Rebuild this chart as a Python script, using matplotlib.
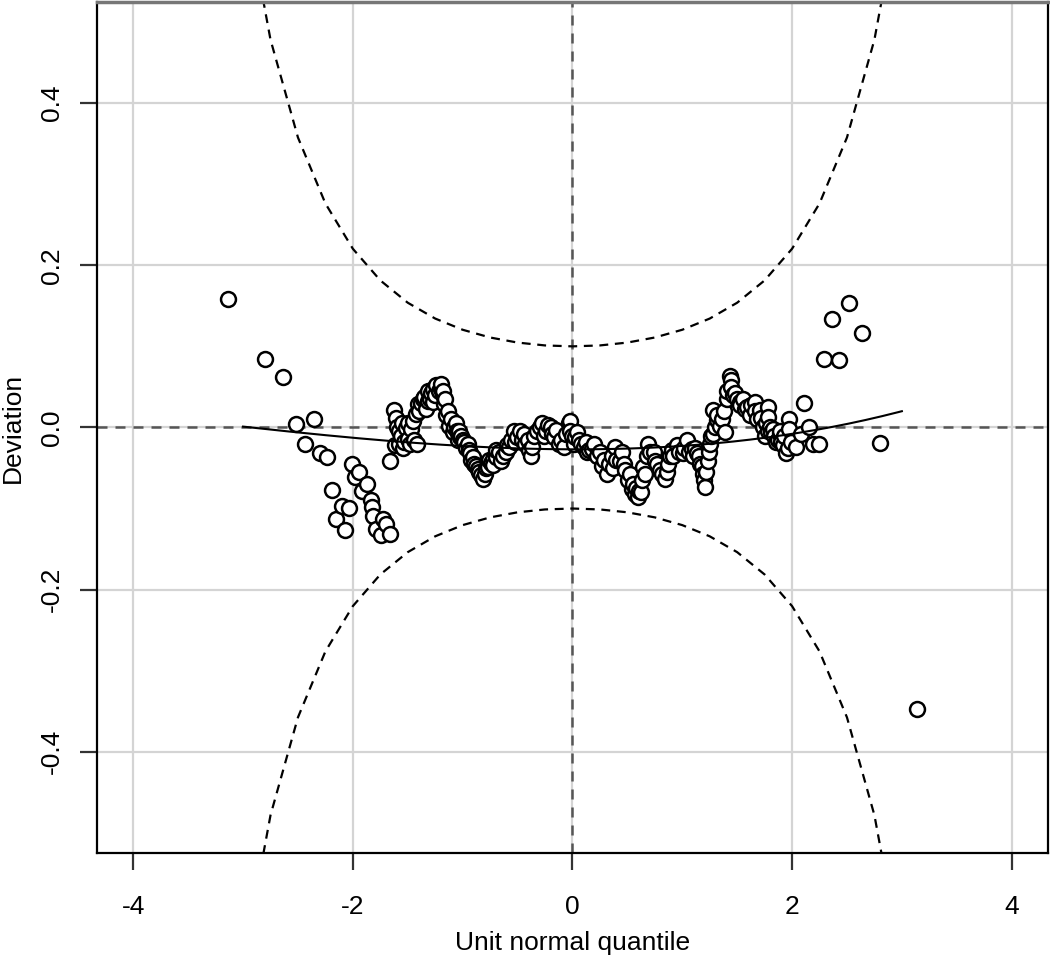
import numpy as np
import matplotlib
matplotlib.use("Agg")
import matplotlib.pyplot as plt
from math import erf, sqrt, pi, exp

plt.rcParams['font.family'] = ['Liberation Sans', 'DejaVu Sans']

# worm points: unit normal quantile vs deviation (tails + main strand)
qx = [-3.140, -2.804, -2.636, -2.518, -2.432, -2.357, -2.300, -2.239, -2.194, -2.149,
      -2.103, -2.073, -2.034, -2.006, -1.983, -1.946, -1.919, -1.868, -1.838, -1.825,
      -1.816, -1.786, -1.747, -1.725, -1.695, -1.665,
      -1.659, -1.626, -1.611, -1.620, -1.584, -1.566, -1.544, -1.514, -1.499, -1.469,
      -1.439, -1.423, -1.414, -1.408, -1.363, -1.333, -1.317, -1.287, -1.272, -1.242,
      -1.197, -1.181, -1.167, -1.151, -1.121, -1.091, -1.061, -1.045, -1.031, -1.015,
      -0.985, -0.955, -0.940, -0.909, -0.895, -0.864, -0.834, -0.819,
      -0.773, -0.743, -0.728, -0.698, -0.653, -0.607, -0.578, -0.532, -0.501, -0.442,
      -0.408, -0.381, -0.365, -0.320, -0.275, -0.245, -0.199, -0.170, -0.124, -0.079,
      -0.034, -0.018, 0.027, 0.057, 0.102, 0.133,
      0.179, 0.224, 0.269, 0.315, 0.360, 0.390, 0.435, 0.481, 0.510, 0.541,
      0.571, 0.601, 0.632, 0.646, 0.692, 0.752, 0.798, 0.843, 0.873, 0.904,
      0.949, 1.009, 1.040, 1.085, 1.131, 1.160, 1.190, 1.206, 1.236, 1.251,
      1.281, 1.312, 1.281, 1.342, 1.387, 1.403, 1.432, 1.448, 1.478, 1.523,
      1.568, 1.614, 1.659, 1.704, 1.734, 1.750,
      1.780, 1.780, 1.811, 1.825, 1.856, 1.886, 1.901, 1.916, 1.947, 1.976,
      1.976, 1.992, 2.037, 2.083, 2.112, 2.158, 2.188, 2.248, 2.294, 2.360,
      2.430, 2.520, 2.636, 2.801, 3.137]
dev = [0.158, 0.084, 0.062, 0.004, -0.021, 0.010, -0.032, -0.037, -0.077, -0.113,
       -0.097, -0.127, -0.100, -0.045, -0.061, -0.055, -0.078, -0.070, -0.090, -0.098,
       -0.109, -0.125, -0.133, -0.113, -0.119, -0.131,
       -0.042, 0.022, 0.012, -0.022, -0.004, -0.010, -0.025, -0.001, -0.014, -0.002,
       -0.016, 0.017, -0.020, 0.029, 0.035, 0.023, 0.033, 0.042, 0.031, 0.052,
       0.054, 0.040, 0.029, 0.015, 0.002, -0.006, 0.005, -0.016, -0.004, -0.010,
       -0.018, -0.020, -0.028, -0.037, -0.045, -0.051, -0.059, -0.063,
       -0.049, -0.044, -0.039, -0.028, -0.041, -0.030, -0.024, -0.004, -0.012, -0.008,
       -0.016, -0.035, -0.024, -0.004, 0.005, -0.004, 0.000, -0.012, -0.020, -0.024,
       0.005, -0.004, -0.012, -0.016, -0.024, -0.030,
       -0.026, -0.035, -0.047, -0.057, -0.035, -0.024, -0.041, -0.053, -0.065, -0.076,
       -0.082, -0.086, -0.065, -0.049, -0.020, -0.041, -0.053, -0.063, -0.045, -0.028,
       -0.022, -0.032, -0.016, -0.026, -0.032, -0.045, -0.057, -0.074, -0.041, -0.020,
       -0.008, 0.009, 0.021, 0.002, -0.006, 0.035, 0.064, 0.050, 0.042, 0.031,
       0.023, 0.015, 0.031, 0.021, 0.000, -0.010,
       0.025, 0.013, -0.006, -0.002, -0.018, -0.008, -0.018, -0.022, -0.032, 0.011,
       -0.002, -0.018, -0.024, -0.008, 0.030, 0.000, -0.020, -0.020, 0.084, 0.134,
       0.083, 0.153, 0.116, -0.019, -0.348]

# overlapping circles that thicken the central worm
qx_extra = [-1.60, -1.58, -1.55, -1.53, -1.50, -1.48, -1.45,
            -1.40, -1.38, -1.35, -1.32, -1.30, -1.27, -1.25, -1.22, -1.20, -1.18, -1.16,
            -1.13, -1.11, -1.08, -1.05, -1.02, -1.00, -0.97, -0.93, -0.92, -0.88, -0.85,
            -0.80, -0.79,
            -0.76, -0.72, -0.70, -0.67, -0.63, -0.60, -0.56, -0.52, -0.48, -0.46, -0.43,
            -0.40, -0.35, -0.30, -0.26, -0.22, -0.19, -0.15, -0.10, -0.06, -0.02, 0.00,
            0.01,
            0.04, 0.08, 0.12, 0.15, 0.20, 0.25, 0.29, 0.33, 0.37, 0.40, 0.45, 0.47, 0.52,
            0.55, 0.58, 0.61, 0.62, 0.66, 0.68, 0.71,
            0.74, 0.77, 0.82, 0.86, 0.89, 0.92, 0.97, 1.02, 1.06, 1.10, 1.12, 1.15, 1.18,
            1.20, 1.22, 1.24, 1.26, 1.30, 1.32, 1.36, 1.38,
            1.41, 1.44, 1.46, 1.50, 1.53, 1.55, 1.59, 1.63, 1.66, 1.68, 1.72, 1.76, 1.78,
            1.80, 1.84, 1.87, 1.89, 1.93, 1.96]
dev_extra = [0.000, -0.020, 0.005, -0.018, 0.005, -0.020, 0.008,
             0.020, 0.030, 0.038, 0.045, 0.035, 0.048, 0.040, 0.045, 0.048, 0.045, 0.035,
             0.020, 0.010, 0.000, -0.005, -0.012, -0.015, -0.025, -0.032, -0.040, -0.048,
             -0.055, -0.058, -0.050,
             -0.040, -0.046, -0.036, -0.030, -0.035, -0.022, -0.015, -0.018, -0.005,
             -0.015, -0.020, -0.028, -0.010, 0.000, -0.010, 0.003, -0.008, -0.003,
             -0.015, -0.008, 0.008, -0.010, -0.020,
             -0.006, -0.020, -0.018, -0.028, -0.020, -0.030, -0.040, -0.045, -0.050,
             -0.040, -0.030, -0.045, -0.058, -0.070, -0.075, -0.078, -0.080, -0.058,
             -0.035, -0.030,
             -0.030, -0.045, -0.058, -0.055, -0.035, -0.035, -0.030, -0.025, -0.030,
             -0.035, -0.025, -0.035, -0.048, -0.065, -0.055, -0.030, -0.010, 0.000,
             0.015, 0.010, 0.020,
             0.045, 0.058, 0.040, 0.035, 0.028, 0.035, 0.025, 0.028, 0.020, 0.010, 0.012,
             0.005, -0.005, 0.000, -0.010, -0.015, -0.005, -0.010, -0.025]

# cubic fit of the worm: b0 + b1 x + b2 x^2 + b3 x^3
fit_coef = [-0.027, -0.00037, 0.00417, 0.000393]
fit_range = (-3.0, 3.0)

# confidence band settings
n_obs = 603
level = 0.95
z_grid = np.arange(-4.0, 4.01, 0.25)


def dnorm(z):
    return exp(-z * z / 2) / sqrt(2 * pi)


def pnorm(z):
    return 0.5 * (1 + erf(z / sqrt(2)))


fig = plt.figure(figsize=(10.5, 9.6), dpi=100)
ax = fig.add_axes([0.0924, 0.1115, 0.9056, 0.8865])

ax.set_xlim(-4.33, 4.33)
ax.set_ylim(-0.525, 0.525)
ax.set_xticks([-4, -2, 0, 2, 4])
ax.set_yticks([-0.4, -0.2, 0.0, 0.2, 0.4])
ax.set_xticklabels(['-4', '-2', '0', '2', '4'])
ax.set_yticklabels(['-0.4', '-0.2', '0.0', '0.2', '0.4'], rotation=90, va='center')
ax.grid(True, color='#d4d4d4', linewidth=1.6)
ax.set_axisbelow(True)

ax.axhline(0, color='#555555', linestyle=(0, (4, 3.2)), linewidth=1.8, zorder=1)
ax.axvline(0, color='#555555', linestyle=(0, (4, 3.2)), linewidth=1.8, zorder=1)

zq = 1.959964
se = np.array([sqrt(pnorm(z) * (1 - pnorm(z)) / n_obs) / dnorm(z) for z in z_grid])
ax.plot(z_grid, zq * se, color='black', linestyle=(0, (4, 3)), linewidth=1.6, zorder=2)
ax.plot(z_grid, -zq * se, color='black', linestyle=(0, (4, 3)), linewidth=1.6, zorder=2)

all_x = qx + qx_extra
all_y = dev + dev_extra
order = np.argsort(all_x, kind='stable')
ax.scatter(np.array(all_x)[order], np.array(all_y)[order], s=115, facecolors='white',
           edgecolors='black', linewidths=1.8, zorder=3)

xf = np.linspace(fit_range[0], fit_range[1], 200)
yf = fit_coef[0] + fit_coef[1] * xf + fit_coef[2] * xf ** 2 + fit_coef[3] * xf ** 3
ax.plot(xf, yf, color='black', linewidth=1.5, zorder=4)

for side in ['left', 'bottom', 'right']:
    ax.spines[side].set_color('black')
    ax.spines[side].set_linewidth(1.6)
ax.spines['top'].set_color('#777777')
ax.spines['top'].set_linewidth(2.5)

ax.tick_params(direction='out', length=12, width=1.6, color='#333333', labelsize=19)
ax.tick_params(axis='x', pad=18)
ax.tick_params(axis='y', pad=12)
ax.set_xlabel('Unit normal quantile', fontsize=19, labelpad=9)
ax.set_ylabel('Deviation', fontsize=19, labelpad=11)

fig.savefig('out.png', dpi=100)
